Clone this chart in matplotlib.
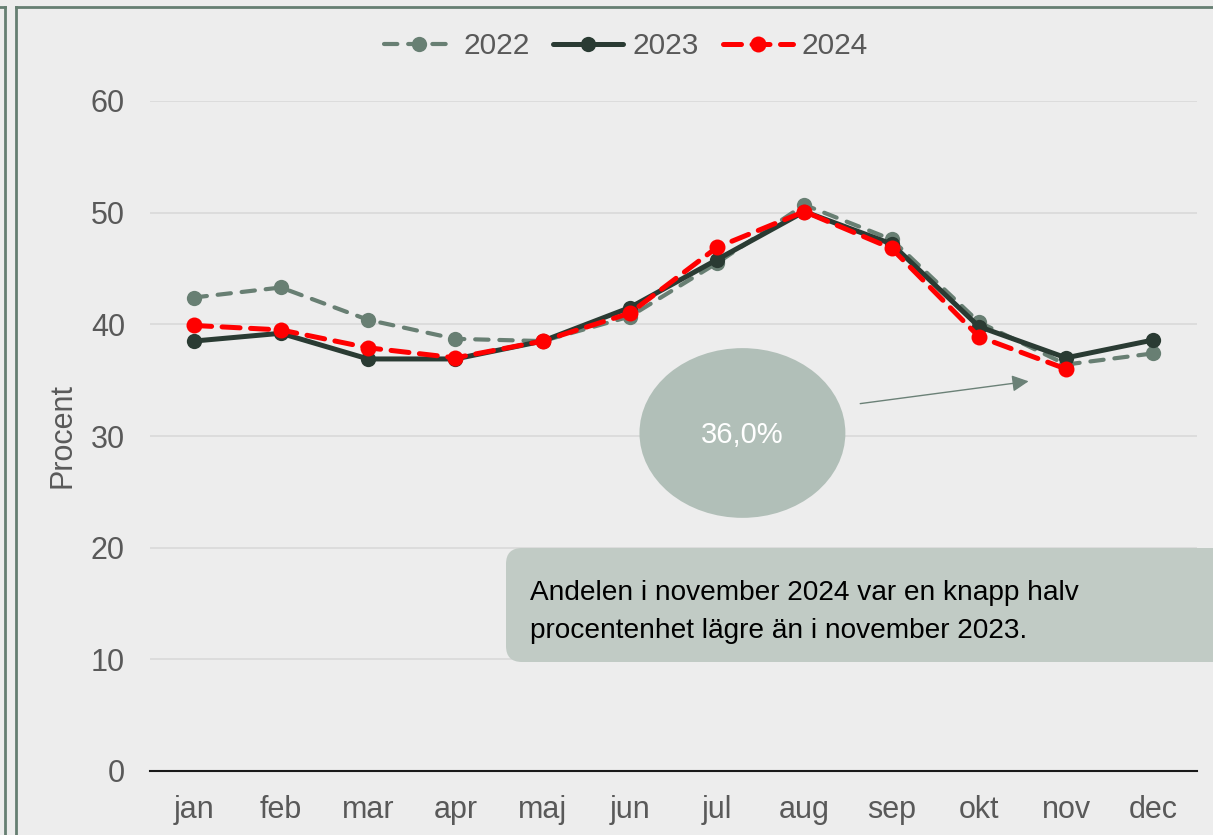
import numpy as np
import matplotlib
matplotlib.use('Agg')
import matplotlib.pyplot as plt
from matplotlib.lines import Line2D
from matplotlib.patches import Ellipse, FancyBboxPatch
import matplotlib.transforms as mtransforms

plt.rcParams['font.family'] = ['Liberation Sans', 'DejaVu Sans']

months = ['jan', 'feb', 'mar', 'apr', 'maj', 'jun', 'jul', 'aug', 'sep', 'okt', 'nov', 'dec']
y2022 = [42.4, 43.3, 40.4, 38.7, 38.5, 40.7, 45.5, 50.7, 47.6, 40.2, 36.4, 37.4]
y2023 = [38.5, 39.2, 36.9, 36.9, 38.5, 41.5, 45.8, 50.1, 47.2, 39.8, 37.0, 38.6]
y2024 = [39.9, 39.5, 37.9, 37.0, 38.5, 41.0, 46.9, 50.1, 46.8, 38.9, 36.0]
yticks = [0, 10, 20, 30, 40, 50, 60]
note = ['Andelen i november 2024 var en knapp halv',
        'procentenhet lägre än i november 2023.']
callout = '36,0%'

W, H = 1213, 835
bg = '#ededed'
frame = '#667f72'
tick_col = '#595959'

fig = plt.figure(figsize=(W / 100, H / 100), dpi=100, facecolor=bg)
ax = fig.add_axes([150 / W, 64 / H, 1047 / W, 670 / H])
ax.set_facecolor(bg)

# outer frame lines
fig.add_artist(Line2D([16 / W, 1], [1 - 7 / H, 1 - 7 / H], color=frame, lw=2, transform=fig.transFigure))
fig.add_artist(Line2D([16 / W, 16 / W], [0, 1 - 7 / H], color=frame, lw=2, transform=fig.transFigure))
fig.add_artist(Line2D([5 / W, 5 / W], [0, 1 - 7 / H], color=frame, lw=2, transform=fig.transFigure))
fig.add_artist(Line2D([0, 5 / W], [1 - 7 / H, 1 - 7 / H], color=frame, lw=2, transform=fig.transFigure))

x = np.arange(len(months))
l1, = ax.plot(x, y2022, color='#687f73', lw=3.0, marker='o', ms=11, mew=0,
              dashes=(3.2, 2.6), dash_capstyle='round', zorder=3, label='2022')
l2, = ax.plot(x, y2023, color='#2a3b33', lw=3.6, marker='o', ms=11, mew=0,
              solid_capstyle='round', zorder=4, label='2023')
l3, = ax.plot(x[:len(y2024)], y2024, color='#ff0000', lw=3.6, marker='o', ms=11.5, mew=0,
              dashes=(3.6, 2.1), dash_capstyle='round', zorder=5, label='2024')

ax.set_xlim(-0.5, 11.5)
ax.set_ylim(0, 60)
ax.set_yticks(yticks)
ax.set_xticks(x)
ax.set_xticklabels(months)
ax.grid(axis='y', color='#d9d9d9', lw=1.2)
ax.set_axisbelow(True)
for s in ['top', 'right', 'left']:
    ax.spines[s].set_visible(False)
ax.spines['bottom'].set_color('#1a1a1a')
ax.spines['bottom'].set_linewidth(1.5)
ax.spines['bottom'].set_zorder(2)
ax.tick_params(axis='both', length=0, labelsize=22, labelcolor=tick_col)
ax.tick_params(axis='y', pad=18)
ax.tick_params(axis='x', pad=17)
ax.set_ylabel('Procent', fontsize=22, color=tick_col)
ax.yaxis.set_label_coords(-0.069, 0.5)

fig.legend(handles=[l1, l2, l3], loc='center', bbox_to_anchor=(626 / W, 1 - 46 / H), ncol=3,
           frameon=False, fontsize=21.5, handlelength=2.35, handletextpad=0.3,
           columnspacing=0.8, labelcolor=tick_col)

# bubble with value
ax.add_patch(Ellipse((6.29, 30.27), width=2.36, height=15.2, color='#b1bfb8', lw=0, zorder=2))
ax.text(6.29, 30.1, callout, color='white', fontsize=21, ha='center', va='center', zorder=6)
ax.annotate('', xy=(9.57, 34.9), xytext=(7.64, 32.9),
            arrowprops=dict(arrowstyle='-|>', color='#6b8177', lw=1, mutation_scale=25, shrinkA=0, shrinkB=0))

# comment box
box = FancyBboxPatch((506, H - 662), 740, 114, boxstyle='round,pad=0,rounding_size=16',
                     transform=mtransforms.IdentityTransform(), facecolor='#c1cbc5',
                     edgecolor='none', zorder=6)
fig.add_artist(box)
fig.text(530 / W, 1 - 600 / H, note[0], fontsize=20.2, color='black', va='baseline', zorder=7)
fig.text(530 / W, 1 - 638 / H, note[1], fontsize=20.2, color='black', va='baseline', zorder=7)

fig.savefig('out.png', dpi=100, facecolor=bg)
